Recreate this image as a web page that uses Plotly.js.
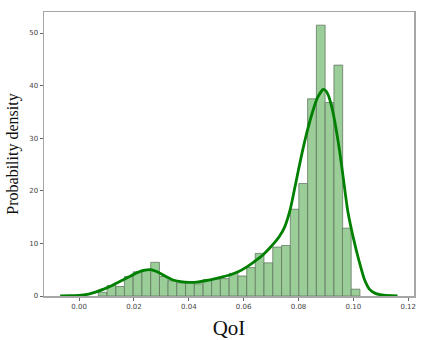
<!DOCTYPE html>
<html>
<head>
<meta charset="utf-8">
<script src="https://cdn.plot.ly/plotly-3.0.1.min.js"></script>
<style>html,body{margin:0;padding:0;background:#fff;}#chart{width:423px;height:340px;}</style>
</head>
<body>
<div id="chart"></div>
<script>
// Histogram bins (QoI bin centres) and probability densities
var binCenters = [0.0086, 0.0118, 0.0150, 0.0181, 0.0213, 0.0245, 0.0277, 0.0309, 0.0340, 0.0372,
                  0.0404, 0.0436, 0.0468, 0.0499, 0.0531, 0.0563, 0.0595, 0.0627, 0.0658, 0.0690,
                  0.0722, 0.0754, 0.0786, 0.0817, 0.0849, 0.0881, 0.0913, 0.0945, 0.0976, 0.1008];
var density = [0.7, 2.0, 1.8, 3.7, 4.6, 5.0, 6.4, 3.7, 2.9, 2.5,
               2.5, 2.3, 3.1, 3.2, 3.3, 4.3, 3.8, 5.4, 8.1, 6.3,
               9.3, 9.6, 16.5, 21.4, 37.5, 51.5, 36.8, 43.9, 12.9, 1.3];

// Kernel density estimate curve
var kdeX = [-0.0069, -0.003, 0.000, 0.003, 0.006, 0.009, 0.012, 0.015, 0.018, 0.021,
            0.024, 0.026, 0.028, 0.030, 0.032, 0.034, 0.037, 0.040, 0.043, 0.046,
            0.049, 0.052, 0.055, 0.058, 0.061, 0.064, 0.067, 0.070, 0.073, 0.075,
            0.077, 0.079, 0.081, 0.083, 0.085, 0.087, 0.089, 0.090, 0.091, 0.092,
            0.093, 0.094, 0.095, 0.0963, 0.098, 0.100, 0.102, 0.104, 0.106, 0.108,
            0.111, 0.1161];
var kdeY = [0.02, 0.05, 0.1, 0.3, 0.75, 1.3, 2.0, 2.8, 3.6, 4.4,
            4.9, 5.0, 4.7, 4.2, 3.6, 3.1, 2.75, 2.6, 2.65, 2.9,
            3.2, 3.6, 4.0, 4.6, 5.5, 6.6, 7.8, 9.4, 11.3, 13.2,
            16.5, 21.5, 26.5, 31.0, 34.8, 37.8, 39.3, 39.0, 38.0, 36.2,
            33.8, 30.8, 27.5, 22.5, 16.0, 11.0, 6.8, 3.2, 1.2, 0.5,
            0.15, 0.03];

var xTickLabels = ['0.00', '0.02', '0.04', '0.06', '0.08', '0.10', '0.12'];
var xTickVals = [0.00, 0.02, 0.04, 0.06, 0.08, 0.10, 0.12];

var binWidth = (binCenters[binCenters.length - 1] - binCenters[0]) / (binCenters.length - 1);

var traces = [
  {
    type: 'bar',
    x: binCenters,
    y: density,
    width: binWidth,
    marker: {color: 'rgb(155,205,152)', line: {color: 'rgba(95,115,95,0.75)', width: 1}},
    hoverinfo: 'x+y',
    showlegend: false
  },
  {
    type: 'scatter',
    mode: 'lines',
    x: kdeX,
    y: kdeY,
    line: {color: '#008000', width: 2.8, shape: 'spline', smoothing: 0.6},
    showlegend: false
  }
];

var tickFont = {family: 'DejaVu Sans, sans-serif', size: 7, color: '#444'};

var layout = {
  width: 423,
  height: 340,
  margin: {l: 44, r: 9, t: 12, b: 44},
  paper_bgcolor: '#ffffff',
  plot_bgcolor: '#ffffff',
  bargap: 0,
  xaxis: {
    range: [-0.0128, 0.1221],
    tickvals: xTickVals,
    ticktext: xTickLabels,
    showgrid: false,
    zeroline: false,
    showline: true,
    mirror: true,
    linecolor: '#a6a6a6',
    linewidth: 1.5,
    ticks: 'outside',
    ticklen: 3,
    tickcolor: '#666',
    tickfont: tickFont,
    title: {text: 'QoI', font: {family: 'Liberation Serif, Times New Roman, serif', size: 21, color: '#111'}, standoff: 14}
  },
  yaxis: {
    range: [0, 54],
    dtick: 10,
    tick0: 0,
    showgrid: false,
    zeroline: false,
    showline: true,
    mirror: true,
    linecolor: '#a6a6a6',
    linewidth: 1.5,
    ticks: 'outside',
    ticklen: 3,
    tickcolor: '#666',
    tickfont: tickFont,
    title: {text: 'Probability density', font: {family: 'Liberation Serif, Times New Roman, serif', size: 16, color: '#111'}, standoff: 6}
  }
};

Plotly.newPlot('chart', traces, layout, {displayModeBar: false, staticPlot: true});
</script>
</body>
</html>
